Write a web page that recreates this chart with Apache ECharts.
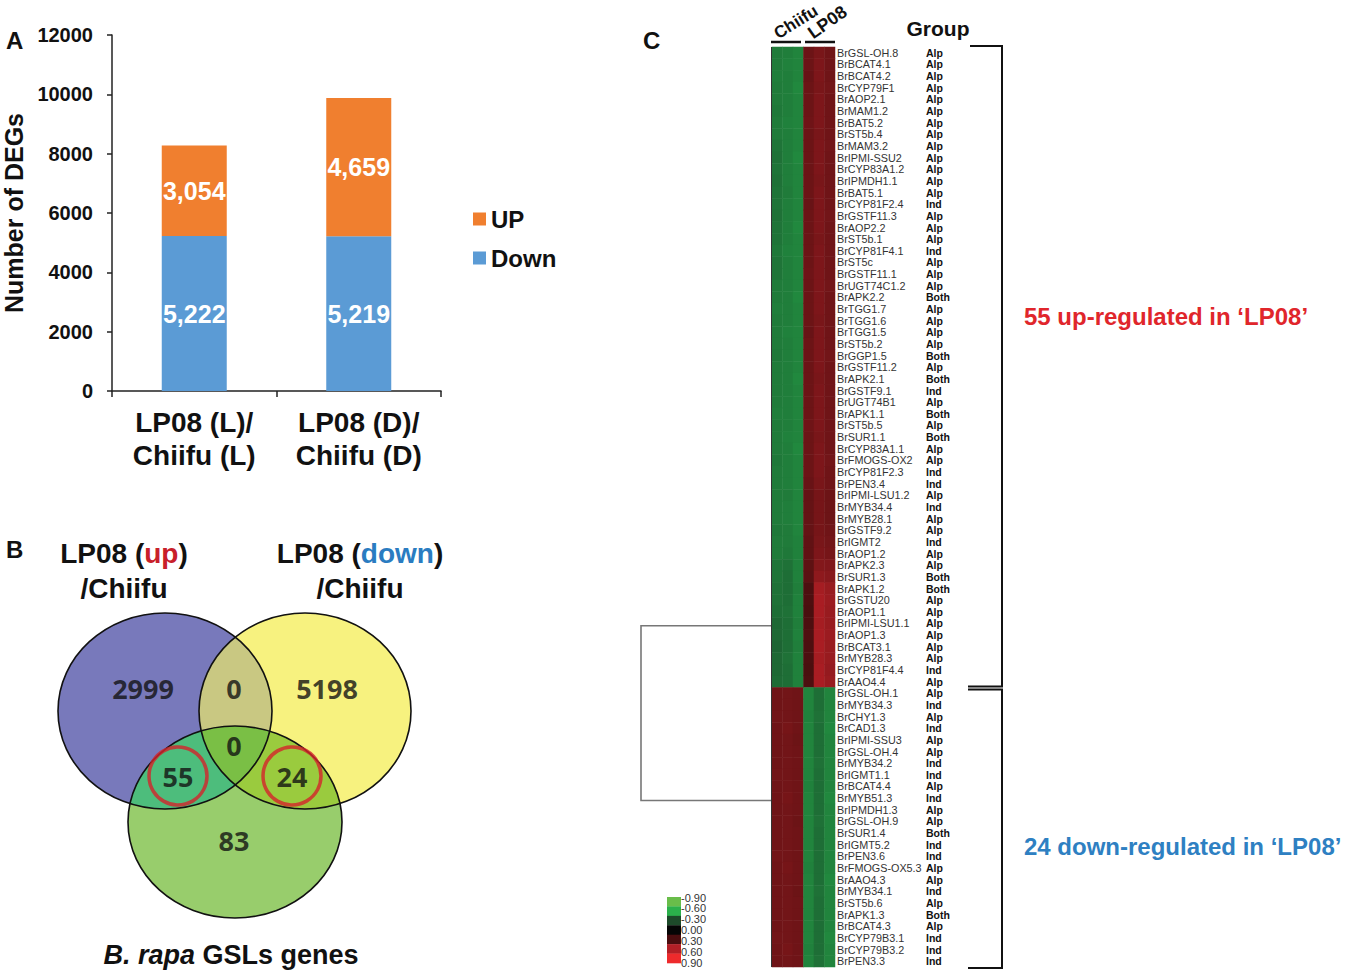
<!DOCTYPE html>
<html><head><meta charset="utf-8">
<script src="https://cdn.jsdelivr.net/npm/echarts@6/dist/echarts.min.js"></script>
<style>html,body{margin:0;padding:0;background:#fff}#c{width:1346px;height:973px}</style>
</head><body><div id="c"></div>
<script>
// ---------- Panel A data ----------
const barCategories = ['LP08 (L)/\nChiifu (L)', 'LP08 (D)/\nChiifu (D)'];
const downValues = [5222, 5219];
const upValues = [3054, 4659];

// ---------- Panel B data ----------
// regions: up only, up∩down, down only, all three, up∩GSL, down∩GSL, GSL only
const vennCounts = [2999, 0, 5198, 0, 55, 24, 83];
const vennCircled = [4, 5];

// ---------- Panel C data ----------
const upGenes = ['BrGSL-OH.8','BrBCAT4.1','BrBCAT4.2','BrCYP79F1','BrAOP2.1','BrMAM1.2','BrBAT5.2','BrST5b.4','BrMAM3.2','BrIPMI-SSU2','BrCYP83A1.2','BrIPMDH1.1','BrBAT5.1','BrCYP81F2.4','BrGSTF11.3','BrAOP2.2','BrST5b.1','BrCYP81F4.1','BrST5c','BrGSTF11.1','BrUGT74C1.2','BrAPK2.2','BrTGG1.7','BrTGG1.6','BrTGG1.5','BrST5b.2','BrGGP1.5','BrGSTF11.2','BrAPK2.1','BrGSTF9.1','BrUGT74B1','BrAPK1.1','BrST5b.5','BrSUR1.1','BrCYP83A1.1','BrFMOGS-OX2','BrCYP81F2.3','BrPEN3.4','BrIPMI-LSU1.2','BrMYB34.4','BrMYB28.1','BrGSTF9.2','BrIGMT2','BrAOP1.2','BrAPK2.3','BrSUR1.3','BrAPK1.2','BrGSTU20','BrAOP1.1','BrIPMI-LSU1.1','BrAOP1.3','BrBCAT3.1','BrMYB28.3','BrCYP81F4.4','BrAAO4.4'];
const upGroups = ['Alp','Alp','Alp','Alp','Alp','Alp','Alp','Alp','Alp','Alp','Alp','Alp','Alp','Ind','Alp','Alp','Alp','Ind','Alp','Alp','Alp','Both','Alp','Alp','Alp','Alp','Both','Alp','Both','Ind','Alp','Both','Alp','Both','Alp','Alp','Ind','Ind','Alp','Ind','Alp','Alp','Ind','Alp','Alp','Both','Both','Alp','Alp','Alp','Alp','Alp','Alp','Ind','Alp'];
const downGenes = ['BrGSL-OH.1','BrMYB34.3','BrCHY1.3','BrCAD1.3','BrIPMI-SSU3','BrGSL-OH.4','BrMYB34.2','BrIGMT1.1','BrBCAT4.4','BrMYB51.3','BrIPMDH1.3','BrGSL-OH.9','BrSUR1.4','BrIGMT5.2','BrPEN3.6','BrFMOGS-OX5.3','BrAAO4.3','BrMYB34.1','BrST5b.6','BrAPK1.3','BrBCAT4.3','BrCYP79B3.1','BrCYP79B3.2','BrPEN3.3'];
const downGroups = ['Alp','Ind','Alp','Ind','Alp','Alp','Ind','Ind','Alp','Ind','Alp','Alp','Both','Ind','Ind','Alp','Alp','Ind','Alp','Both','Alp','Ind','Ind','Ind'];
const sampleColumns = ['Chiifu-1','Chiifu-2','Chiifu-3','LP08-1','LP08-2','LP08-3'];
const sampleHeaders = ['Chiifu','LP08'];

const chiifu1 = [-0.44,-0.44,-0.45,-0.44,-0.44,-0.43,-0.44,-0.44,-0.42,-0.41,
 -0.42,-0.41,-0.42,-0.42,-0.41,-0.42,-0.42,-0.43,-0.42,-0.42,
 -0.44,-0.44,-0.45,-0.44,-0.44,-0.44,-0.43,-0.44,-0.44,-0.44,
 -0.44,-0.45,-0.44,-0.44,-0.44,-0.43,-0.44,-0.44,-0.44,-0.44,
 -0.44,-0.43,-0.44,-0.44,-0.42,-0.42,-0.41,-0.41,-0.40,-0.38,
 -0.38,-0.37,-0.38,-0.38,-0.39,
 0.40,0.40,0.41,0.40,0.40,0.40,0.40,0.41,0.40,0.40,
 0.40,0.40,0.40,0.40,0.41,0.40,0.40,0.40,0.40,0.40,
 0.40,0.41,0.40,0.40];
const chiifu2 = [-0.45,-0.46,-0.45,-0.45,-0.45,-0.45,-0.46,-0.45,-0.45,-0.45,
 -0.45,-0.45,-0.44,-0.45,-0.45,-0.45,-0.45,-0.46,-0.45,-0.45,
 -0.45,-0.45,-0.45,-0.45,-0.46,-0.45,-0.45,-0.45,-0.45,-0.45,
 -0.45,-0.45,-0.45,-0.46,-0.45,-0.45,-0.45,-0.45,-0.44,-0.45,
 -0.45,-0.44,-0.44,-0.43,-0.41,-0.40,-0.40,-0.40,-0.41,-0.40,
 -0.40,-0.40,-0.41,-0.40,-0.40,
 0.41,0.41,0.41,0.42,0.41,0.41,0.41,0.41,0.41,0.42,
 0.41,0.41,0.41,0.41,0.41,0.42,0.41,0.41,0.41,0.41,
 0.41,0.41,0.42,0.41];
const chiifu3 = [-0.47,-0.47,-0.47,-0.48,-0.47,-0.47,-0.47,-0.47,-0.47,-0.48,
 -0.47,-0.47,-0.47,-0.47,-0.47,-0.48,-0.47,-0.47,-0.47,-0.47,
 -0.47,-0.48,-0.47,-0.47,-0.47,-0.47,-0.47,-0.47,-0.48,-0.47,
 -0.47,-0.47,-0.47,-0.47,-0.48,-0.47,-0.47,-0.47,-0.47,-0.47,
 -0.47,-0.47,-0.46,-0.46,-0.46,-0.46,-0.45,-0.46,-0.46,-0.45,
 -0.46,-0.45,-0.46,-0.46,-0.46,
 0.40,0.40,0.40,0.40,0.39,0.40,0.40,0.40,0.40,0.40,
 0.40,0.39,0.40,0.40,0.40,0.40,0.40,0.39,0.40,0.40,
 0.40,0.40,0.40,0.40];
const lp081 = [0.39,0.39,0.38,0.39,0.39,0.39,0.40,0.39,0.39,0.39,
 0.39,0.39,0.39,0.38,0.39,0.39,0.39,0.39,0.39,0.40,
 0.39,0.39,0.39,0.39,0.38,0.39,0.39,0.39,0.39,0.39,
 0.39,0.39,0.40,0.39,0.39,0.39,0.39,0.38,0.37,0.37,
 0.37,0.37,0.36,0.36,0.35,0.34,0.30,0.30,0.29,0.30,
 0.31,0.30,0.30,0.29,0.30,
 -0.47,-0.47,-0.46,-0.47,-0.47,-0.47,-0.47,-0.47,-0.46,-0.47,
 -0.47,-0.47,-0.47,-0.47,-0.47,-0.46,-0.47,-0.47,-0.47,-0.47,
 -0.47,-0.47,-0.46,-0.47];
const lp082 = [0.43,0.44,0.44,0.43,0.44,0.44,0.44,0.43,0.44,0.44,
 0.44,0.43,0.44,0.44,0.44,0.44,0.43,0.44,0.44,0.44,
 0.44,0.44,0.44,0.43,0.44,0.44,0.44,0.44,0.43,0.44,
 0.44,0.44,0.44,0.43,0.44,0.44,0.44,0.43,0.42,0.42,
 0.42,0.42,0.43,0.44,0.46,0.49,0.56,0.57,0.57,0.56,
 0.57,0.57,0.56,0.57,0.57,
 -0.40,-0.40,-0.41,-0.40,-0.40,-0.40,-0.41,-0.40,-0.40,-0.40,
 -0.40,-0.41,-0.40,-0.40,-0.40,-0.40,-0.40,-0.41,-0.40,-0.40,
 -0.40,-0.40,-0.40,-0.41];
const lp083 = [0.40,0.40,0.40,0.41,0.40,0.40,0.40,0.40,0.41,0.40,
 0.40,0.40,0.40,0.40,0.41,0.40,0.40,0.40,0.40,0.40,
 0.41,0.40,0.40,0.40,0.40,0.40,0.41,0.40,0.40,0.40,
 0.40,0.40,0.40,0.40,0.40,0.41,0.40,0.40,0.39,0.39,
 0.39,0.40,0.41,0.42,0.45,0.47,0.52,0.53,0.52,0.52,
 0.53,0.52,0.52,0.51,0.52,
 -0.47,-0.47,-0.47,-0.48,-0.47,-0.47,-0.47,-0.47,-0.47,-0.48,
 -0.47,-0.47,-0.47,-0.47,-0.47,-0.47,-0.48,-0.47,-0.47,-0.47,
 -0.47,-0.48,-0.47,-0.47];
const scaleTicks = ['-0.90','-0.60','-0.30','0.00','0.30','0.60','0.90'];
const dendroJoinRows = [49.2, 64.2]; // rows where the two clusters join

// ---------- layout / styles ----------
const FONT = '"Liberation Sans", Arial, sans-serif';
const vennLayout = {
  ellipses: [{cx:165, cy:711, rx:107, ry:98}, {cx:305, cy:711, rx:106, ry:98}, {cx:235, cy:822, rx:107, ry:96}],
  fills: ['#7879bb', '#f7f27f', '#98cd6c'],
  pairs: [[[0,1], '#c9c882'], [[0,2], '#4dbd7c'], [[1,2], '#9acb3e']],
  triple: '#7abf45',
  labelPos: [[143,688],[234,688],[327,688],[234,745],[178,776],[292,776],[234,840]]
};
const heat = {left:772, top:47, width:63, height:920};
const heatColors = ['#6cc04c', '#25ae4a', '#1b4e2c', '#000000', '#4d0f10', '#b31f25', '#ee2b2d'];
const scaleBoxColors = ['#69bd4a','#2bb04b','#1d4a2a','#050505','#4a0d0f','#b21f26','#ee2a2c'];
const scaleBox = {left:667, top:897, width:14, height:66};

const allGenes = upGenes.concat(downGenes);
const allGroups = upGroups.concat(downGroups);
const reps = [chiifu1, chiifu2, chiifu3, lp081, lp082, lp083];
const heatData = [];
reps.forEach((arr, xi) => arr.forEach((v, yi) => heatData.push([xi, yi, v])));

const fmtThousands = v => String(v).replace(/\B(?=(\d{3})+(?!\d))/g, ',');

function insideE(e, x, y) { const dx = (x - e.cx) / e.rx, dy = (y - e.cy) / e.ry; return dx*dx + dy*dy <= 1.000001; }
function boundaryE(e, n) { const p = []; for (let i = 0; i < n; i++) { const t = 2*Math.PI*i/n; p.push([e.cx + e.rx*Math.cos(t), e.cy + e.ry*Math.sin(t)]); } return p; }
function intersectPoly(idxs) {
  const E = vennLayout.ellipses; let pts = [];
  idxs.forEach(i => boundaryE(E[i], 720).forEach(p => { if (idxs.every(j => j === i || insideE(E[j], p[0], p[1]))) pts.push(p); }));
  let cx = 0, cy = 0; pts.forEach(p => { cx += p[0]; cy += p[1]; }); cx /= pts.length; cy /= pts.length;
  pts.sort((a, b) => Math.atan2(a[1]-cy, a[0]-cx) - Math.atan2(b[1]-cy, b[0]-cx));
  return pts;
}

function vennRender(params, api) {
  const E = vennLayout.ellipses;
  const kids = [];
  const ell = (e, style) => { const c = api.coord([e.cx, e.cy]); const s = api.size([e.rx, e.ry]); return {type:'ellipse', shape:{cx:c[0], cy:c[1], rx:s[0], ry:s[1]}, style}; };
  E.forEach((e, i) => kids.push(ell(e, {fill: vennLayout.fills[i], stroke: null})));
  vennLayout.pairs.forEach(([ids, col]) => kids.push({type:'polygon', shape:{points: intersectPoly(ids).map(p => api.coord(p))}, style:{fill: col}}));
  kids.push({type:'polygon', shape:{points: intersectPoly([0,1,2]).map(p => api.coord(p))}, style:{fill: vennLayout.triple}});
  E.forEach(e => kids.push(ell(e, {fill: 'none', stroke: '#111', lineWidth: 1.6})));
  return {type:'group', children: kids};
}

function txt(x, y, text, extra) {
  return {type:'text', x, y, silent:true, z: 50,
    style: Object.assign({text, fill:'#111', fontFamily: FONT, fontWeight:'bold', fontSize:20, align:'left', verticalAlign:'middle'}, extra || {})};
}
function line(points, extra) {
  return {type:'polyline', silent:true, z: 50, shape:{points}, style: Object.assign({stroke:'#111', lineWidth:2, fill:null}, extra || {})};
}

const rowH = heat.height / allGenes.length;
const rowY = r => heat.top + (r + 0.5) * rowH;
const upEnd = heat.top + upGenes.length * rowH;

const graphics = [
  txt(6, 40, 'A', {fontSize: 24}),
  txt(6, 549, 'B', {fontSize: 24}),
  txt(643, 40, 'C', {fontSize: 24}),
  // venn titles
  txt(124, 553, 'LP08 ({r|up})', {fontSize: 28, align:'center', rich:{r:{fill:'#c8202a', fontSize:28, fontWeight:'bold', fontFamily:FONT}}}),
  txt(124, 588, '/Chiifu', {fontSize: 28, align:'center'}),
  txt(360, 553, 'LP08 ({b|down})', {fontSize: 28, align:'center', rich:{b:{fill:'#2a7cc1', fontSize:28, fontWeight:'bold', fontFamily:FONT}}}),
  txt(360, 588, '/Chiifu', {fontSize: 28, align:'center'}),
  txt(231, 955, '{i|B. rapa} GSLs genes', {fontSize: 27, align:'center', rich:{i:{fontStyle:'italic', fontSize:27, fontWeight:'bold', fontFamily:FONT, fill:'#111'}}}),
  // heatmap headers
  Object.assign(txt(780, 42, sampleHeaders[0], {fontSize: 17, verticalAlign:'bottom'}), {rotation: 32*Math.PI/180}),
  Object.assign(txt(815, 42, sampleHeaders[1], {fontSize: 18, verticalAlign:'bottom'}), {rotation: 35*Math.PI/180}),
  line([[771, 42], [801, 42]], {lineWidth: 2.5}),
  line([[805, 42], [835, 42]], {lineWidth: 2.5}),
  txt(938, 28, 'Group', {fontSize: 21, align:'center'}),
  // brackets
  line([[970, heat.top - 1], [1002, heat.top - 1], [1002, upEnd - 1], [968, upEnd - 1]]),
  line([[968, upEnd + 2], [1002, upEnd + 2], [1002, heat.top + heat.height + 1], [968, heat.top + heat.height + 1]]),
  txt(1024, 316, '55 up-regulated in \u2018LP08\u2019', {fontSize: 24, fill:'#e0262b'}),
  txt(1024, 846, '24 down-regulated in \u2018LP08\u2019', {fontSize: 24, fill:'#2e80c2'}),
  // dendrogram
  line([[heat.left, rowY(dendroJoinRows[0])], [641, rowY(dendroJoinRows[0])], [641, rowY(dendroJoinRows[1])], [heat.left, rowY(dendroJoinRows[1])]], {stroke:'#777', lineWidth:1.6}),
  line([[heat.left - 0.5, heat.top], [heat.left - 0.5, heat.top + heat.height]], {stroke:'#333', lineWidth:1})
];
// colour scale key
const boxH = scaleBox.height / scaleBoxColors.length;
scaleBoxColors.forEach((c, i) => graphics.push({type:'rect', silent:true, z:50,
  shape:{x: scaleBox.left, y: scaleBox.top + i*boxH, width: scaleBox.width, height: boxH + 0.3}, style:{fill:c}}));
scaleTicks.forEach((t, i) => graphics.push(txt(scaleBox.left + scaleBox.width, scaleBox.top + 0.5 + i*10.9, t,
  {fontSize: 11, lineHeight: 10, fontWeight:'normal', fill:'#333'})));

const option = {
  animation: false,
  backgroundColor: '#fff',
  textStyle: {fontFamily: FONT},
  grid: [
    {left: 112, top: 35, width: 329, height: 356},
    {left: 0, top: 0, width: 1346, height: 973},
    {left: heat.left, top: heat.top, width: heat.width, height: heat.height}
  ],
  legend: {
    data: ['UP', 'Down'], orient: 'vertical', left: 468, top: 202, icon: 'rect',
    itemWidth: 13, itemHeight: 13, itemGap: 15, selectedMode: false,
    textStyle: {fontSize: 24, fontWeight: 'bold', color: '#111', fontFamily: FONT}
  },
  xAxis: [
    {type: 'category', gridIndex: 0, data: barCategories,
      axisLine: {lineStyle: {color: '#222', width: 1.5}},
      axisTick: {show: true, length: 6, lineStyle: {color: '#222', width: 1.5}},
      axisLabel: {fontSize: 28, fontWeight: 'bold', color: '#111', lineHeight: 33, margin: 15, fontFamily: FONT}},
    {type: 'value', gridIndex: 1, min: 0, max: 1346, show: false},
    {type: 'category', gridIndex: 2, data: sampleColumns, show: false}
  ],
  yAxis: [
    {type: 'value', gridIndex: 0, min: 0, max: 12000, interval: 2000,
      name: 'Number of DEGs', nameLocation: 'middle', nameGap: 86, nameRotate: 90,
      nameTextStyle: {fontSize: 25, fontWeight: 'bold', color: '#111', fontFamily: FONT},
      axisLine: {show: true, lineStyle: {color: '#222', width: 1.5}},
      axisTick: {show: true, length: 5, lineStyle: {color: '#222', width: 1.5}},
      splitLine: {show: false},
      axisLabel: {fontSize: 20, fontWeight: 'bold', color: '#111', margin: 19, fontFamily: FONT, formatter: v => String(v)}},
    {type: 'value', gridIndex: 1, min: 0, max: 973, inverse: true, show: false},
    {type: 'category', gridIndex: 2, data: allGenes, inverse: true, position: 'right',
      axisLine: {show: false}, axisTick: {show: false},
      axisLabel: {interval: 0, margin: 2, fontSize: 10.8, color: '#333', fontFamily: FONT}},
    {type: 'category', gridIndex: 2, data: allGenes, inverse: true, position: 'right', offset: 89,
      axisLine: {show: false}, axisTick: {show: false},
      axisLabel: {interval: 0, margin: 2, fontSize: 10.5, fontWeight: 'bold', color: '#111', fontFamily: FONT,
        formatter: (v, i) => allGroups[i]}}
  ],
  visualMap: [
    {type: 'continuous', show: false, seriesIndex: [5], dimension: 2, min: -0.9, max: 0.9,
      inRange: {color: heatColors}}
  ],
  series: [
    {name: 'Down', type: 'bar', stack: 'degs', xAxisIndex: 0, yAxisIndex: 0, data: downValues, barWidth: 65,
      itemStyle: {color: '#5b9bd5'},
      label: {show: true, position: 'inside', formatter: p => fmtThousands(p.value), color: '#fff', fontSize: 25, fontWeight: 'bold', fontFamily: FONT}},
    {name: 'UP', type: 'bar', stack: 'degs', xAxisIndex: 0, yAxisIndex: 0, data: upValues, barWidth: 65,
      itemStyle: {color: '#f07f2f'},
      label: {show: true, position: 'inside', formatter: p => fmtThousands(p.value), color: '#fff', fontSize: 25, fontWeight: 'bold', fontFamily: FONT}},
    {type: 'custom', xAxisIndex: 1, yAxisIndex: 1, data: [[0, 0]], renderItem: vennRender, silent: true, z: 1},
    {type: 'scatter', xAxisIndex: 1, yAxisIndex: 1, silent: true, z: 5, symbolSize: 1,
      itemStyle: {color: 'rgba(0,0,0,0)'},
      data: vennCounts.map((c, i) => [vennLayout.labelPos[i][0], vennLayout.labelPos[i][1], c]),
      label: {show: true, position: 'inside', formatter: p => String(p.value[2]), fontSize: 27, fontWeight: 'bold', color: '#111', fontFamily: '"Open Sans", sans-serif'}},
    {type: 'scatter', xAxisIndex: 1, yAxisIndex: 1, silent: true, z: 6, symbol: 'circle', symbolSize: 58,
      itemStyle: {color: 'rgba(0,0,0,0)', borderColor: '#d5232a', borderWidth: 3.5},
      data: vennCircled.map(i => [vennLayout.labelPos[i][0], vennLayout.labelPos[i][1]])},
    {type: 'heatmap', xAxisIndex: 2, yAxisIndex: 2, data: heatData, silent: true, itemStyle: {borderWidth: 0}}
  ],
  graphic: graphics
};

const chart = echarts.init(document.getElementById('c'), null, {renderer: 'svg', width: 1346, height: 973});
chart.setOption(option);
</script>
</body></html>
